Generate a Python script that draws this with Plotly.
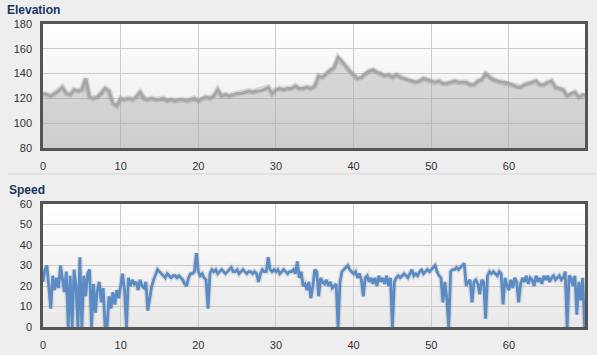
import plotly.graph_objects as go

# ---------------- data ----------------
elev_step_km = 0.5
elevation_m = [
    124, 123, 122, 124, 126, 129, 124, 123, 127, 126,
    127, 136, 121, 120, 121, 124, 128, 126, 116, 114,
    120, 119, 120, 119, 121, 125, 120, 119, 120, 119,
    119, 120, 118, 119, 118, 119, 119, 118, 119, 120,
    118, 120, 121, 120, 122, 127, 122, 123, 122, 123,
    124, 124, 125, 126, 125, 126, 126, 127, 129, 124,
    127, 128, 127, 128, 128, 130, 128, 128, 129, 128,
    130, 138, 137, 140, 143, 145, 153, 150, 146, 142,
    139, 136, 137, 140, 142, 143, 141, 140, 138, 139,
    137, 139, 137, 136, 135, 134, 133, 134, 136, 135,
    134, 133, 134, 132, 132, 133, 134, 133, 133, 133,
    131, 131, 134, 135, 140, 137, 135, 134, 133, 133,
    132, 131, 129, 129, 131, 132, 133, 134, 131, 131,
    133, 134, 129, 128, 127, 122, 124, 125, 121, 123,
    123,
]
elev_end_km = 69.8

speed_step_km = 0.25
speed_kmh = [
    22, 28, 30, 21,   9, 25, 18, 24,  19, 30, 22, 17,  27, 0, 25, 0,
    28, 20, 0, 34,    0, 25, 15, 26,  28, 0, 21, 7,    18, 22, 12, 19,
    0, 0, 15, 9,      17, 11, 18, 14, 20, 26, 18, 0,   24, 20, 23, 21,
    22, 18, 23, 20,   19, 22, 8, 15,  20, 23, 26, 28,  27, 26, 25, 24,
    26, 25, 24, 25,   25, 24, 25, 24, 23, 21, 20, 24,  26, 26, 27, 36,
    27, 25, 26, 24,   23, 9, 26, 28,  27, 28, 26, 27,  28, 27, 26, 27,
    28, 29, 27, 27,   28, 26, 27, 28, 27, 26, 27, 27,  26, 27, 26, 22,
    26, 28, 27, 27,   34, 28, 27, 28, 27, 28, 26, 27,  28, 27, 26, 27,
    27, 28, 26, 32,   24, 27, 20, 21, 18, 22, 14, 20,  28, 27, 15, 24,
    22, 21, 23, 20,   22, 19, 20, 21, 0, 22, 27, 28,   29, 30, 28, 27,
    26, 27, 24, 26,   23, 15, 24, 25, 22, 24, 21, 24,  20, 25, 22, 24,
    21, 25, 20, 24,   0, 22, 24, 25,  24, 25, 26, 25,  24, 26, 28, 25,
    26, 25, 27, 28,   26, 27, 28, 27, 28, 29, 30, 27,  25, 24, 12, 22,
    14, 0, 27, 28,    28, 29, 28, 29, 30, 31, 20, 22,  23, 12, 22, 23,
    21, 16, 23, 22,   4, 25, 27, 26,  27, 26, 25, 27,  26, 11, 24, 20,
    18, 23, 19, 24,   22, 12, 21, 24, 22, 25, 21, 24,  23, 20, 25, 22,
    24, 21, 25, 23,   25, 22, 24, 25, 23, 24, 25, 23,  24, 27, 0, 25,
    24, 20, 25, 6,    22, 13, 24, 0,
    8,
]
speed_end_km = 69.8

x_ticks = [0, 10, 20, 30, 40, 50, 60]
elev_ticks = [80, 100, 120, 140, 160, 180]
speed_ticks = [0, 10, 20, 30, 40, 50, 60]

elev_km = [i * elev_step_km for i in range(len(elevation_m) - 1)] + [elev_end_km]
speed_km = [i * speed_step_km for i in range(len(speed_kmh) - 1)] + [speed_end_km]

# ---------------- figure ----------------
W, H = 597, 355
BG = "#eeeeee"
FONT = "Liberation Sans, Arial, sans-serif"
TITLE_COLOR = "#17365d"

fig = go.Figure()

fig.add_trace(go.Scatter(x=elev_km, y=elevation_m, mode="lines",
                         line=dict(color="rgba(110,110,110,0.22)", width=6),
                         xaxis="x", yaxis="y", hoverinfo="skip", showlegend=False))
fig.add_trace(go.Scatter(x=elev_km, y=elevation_m, mode="lines", fill="tozeroy",
                         fillcolor="rgba(150,150,150,0.32)",
                         line=dict(color="#a6a6a6", width=3),
                         xaxis="x", yaxis="y", showlegend=False))

fig.add_trace(go.Scatter(x=speed_km, y=speed_kmh, mode="lines",
                         line=dict(color="rgba(90,90,90,0.15)", width=5.5),
                         xaxis="x2", yaxis="y2", hoverinfo="skip", showlegend=False))
fig.add_trace(go.Scatter(x=speed_km, y=speed_kmh, mode="lines",
                         line=dict(color="#5a8bc4", width=2.8),
                         xaxis="x2", yaxis="y2", showlegend=False))

x_dom = [43 / W, 585 / W]
elev_dom = [1 - 148 / H, 1 - 24 / H]
speed_dom = [1 - 327 / H, 1 - 204 / H]

axis_common = dict(
    showline=True, linecolor="#555555", linewidth=2.5, mirror=True,
    showgrid=True, gridcolor="#cccccc", gridwidth=1,
    zeroline=False, ticks="", ticklabelstandoff=6, automargin=False,
    tickfont=dict(family=FONT, size=11, color="#333333"),
)

fig.update_layout(
    width=W, height=H, autosize=False,
    margin=dict(l=0, r=0, t=0, b=0, pad=0),
    paper_bgcolor=BG, plot_bgcolor="#ffffff",
    xaxis=dict(domain=x_dom, range=[0, elev_end_km], tickvals=x_ticks,
               anchor="y", **axis_common),
    yaxis=dict(domain=elev_dom, range=[80, 180], tickvals=elev_ticks,
               anchor="x", **axis_common),
    xaxis2=dict(domain=x_dom, range=[0, speed_end_km], tickvals=x_ticks,
                anchor="y2", **axis_common),
    yaxis2=dict(domain=speed_dom, range=[0, 60], tickvals=speed_ticks,
                anchor="x2", **axis_common),
    showlegend=False,
)

shapes = []
N = 24
for ax_y, ax_x in (("y", "x"), ("y2", "x2")):
    for i in range(N):
        t = i / N
        c = int(round(255 - 22 * (1 - t - 0.5 / N)))
        shapes.append(dict(type="rect", xref=f"{ax_x} domain",
                           yref=f"{ax_y} domain", x0=0, x1=1, y0=t, y1=t + 1 / N + 0.002,
                           fillcolor=f"rgb({c},{c},{c})", line=dict(width=0),
                           layer="below"))
shapes.append(dict(type="line", xref="paper", yref="paper", x0=8 / W, x1=1,
                   y0=1 - 174 / H, y1=1 - 174 / H,
                   line=dict(color="#d6d6d6", width=1)))
fig.update_layout(shapes=shapes)

fig.add_annotation(text="<b>Elevation</b>", xref="paper", yref="paper",
                   x=5 / W, y=1 - 10 / H, xanchor="left", yanchor="middle",
                   showarrow=False, font=dict(family=FONT, size=12, color=TITLE_COLOR))
fig.add_annotation(text="<b>Speed</b>", xref="paper", yref="paper",
                   x=7 / W, y=1 - 190 / H, xanchor="left", yanchor="middle",
                   showarrow=False, font=dict(family=FONT, size=12, color=TITLE_COLOR))

fig.write_html("out.html")
